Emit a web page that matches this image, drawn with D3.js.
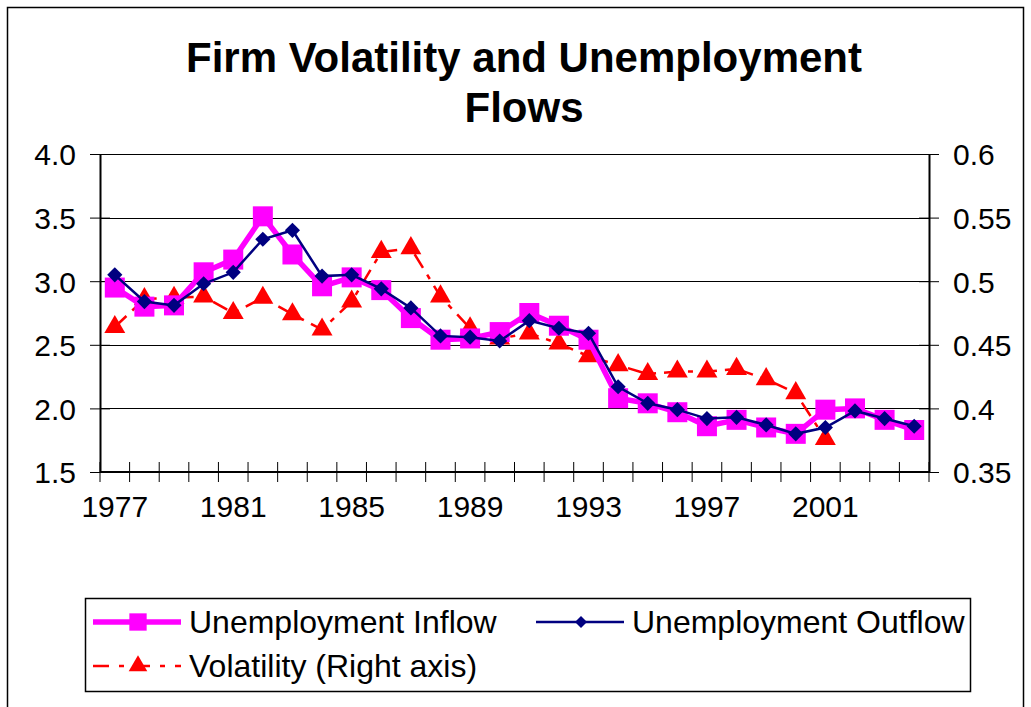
<!DOCTYPE html>
<html>
<head>
<meta charset="utf-8">
<script src="https://cdn.jsdelivr.net/npm/d3@7"></script>
<style>
  body { margin: 0; background: #fff; }
  text { font-family: "Liberation Sans", Arial, sans-serif; }
</style>
</head>
<body>
<script>
// data
const years = d3.range(1977, 2005);
const yearLabels = [1977, 1981, 1985, 1989, 1993, 1997, 2001];

const inflow = [2.95, 2.80, 2.81, 3.07, 3.17, 3.51, 3.21, 2.96, 3.03, 2.93, 2.71, 2.54, 2.55, 2.60,
  2.75, 2.65, 2.54, 2.08, 2.04, 1.97, 1.86, 1.91, 1.85, 1.80, 1.99, 2.00, 1.91, 1.83];
const outflow = [3.05, 2.84, 2.81, 2.98, 3.07, 3.33, 3.40, 3.04, 3.05, 2.94, 2.79, 2.57, 2.56, 2.53,
  2.69, 2.63, 2.59, 2.17, 2.04, 1.99, 1.92, 1.93, 1.87, 1.80, 1.85, 1.98, 1.92, 1.86];
// volatility stops at 2001
const volatility = [0.464, 0.486, 0.487, 0.488, 0.475, 0.487, 0.474, 0.462, 0.484, 0.523, 0.526, 0.488,
  0.463, 0.455, 0.459, 0.451, 0.441, 0.434, 0.427, 0.429, 0.429, 0.431, 0.423, 0.412, 0.376];

const leftTicks = [1.5, 2.0, 2.5, 3.0, 3.5, 4.0];
const rightTicks = [0.35, 0.4, 0.45, 0.5, 0.55, 0.6];

const W = 1031, H = 707;
const plotLeft = 100, plotRight = 929, plotTop = 154, plotBottom = 472;

const svg = d3.select("body").append("svg")
  .attr("width", W)
  .attr("height", H);

// outer chart border
svg.append("rect")
  .attr("x", 7.5).attr("y", 7.5)
  .attr("width", 1016).attr("height", 720)
  .attr("fill", "#fff").attr("stroke", "#000").attr("stroke-width", 1.5);

// title
svg.append("text")
  .attr("x", 524).attr("y", 72)
  .attr("text-anchor", "middle")
  .attr("font-size", 42).attr("font-weight", "bold")
  .text("Firm Volatility and Unemployment");
svg.append("text")
  .attr("x", 524).attr("y", 122)
  .attr("text-anchor", "middle")
  .attr("font-size", 42).attr("font-weight", "bold")
  .text("Flows");

const x = d3.scaleBand()
  .domain(years)
  .range([plotLeft, plotRight]);

const y = d3.scaleLinear()
  .domain([1.5, 4.0])
  .range([plotBottom, plotTop]);

const y2 = d3.scaleLinear()
  .domain([0.35, 0.6])
  .range([plotBottom, plotTop]);

const cx = function(d, i) { return x(years[i]) + x.bandwidth() / 2; };

// gridlines
svg.append("g").selectAll("line")
  .data(leftTicks.slice(1))
  .enter().append("line")
  .attr("x1", plotLeft).attr("x2", plotRight)
  .attr("y1", function(d) { return Math.round(y(d)) + 0.5; })
  .attr("y2", function(d) { return Math.round(y(d)) + 0.5; })
  .attr("stroke", "#000").attr("stroke-width", 1);

// left axis
const yAxis = d3.axisLeft(y)
  .tickValues(leftTicks)
  .tickFormat(d3.format(".1f"))
  .tickSizeInner(10).tickSizeOuter(0).tickPadding(14);
const gl = svg.append("g").attr("transform", "translate(" + plotLeft + ",0)").call(yAxis);

// right axis
const yAxis2 = d3.axisRight(y2)
  .tickValues(rightTicks)
  .tickFormat(function(d) { return d3.format(".2f")(d).replace(/0$/, ""); })
  .tickSizeInner(10).tickSizeOuter(0).tickPadding(14);
const gr = svg.append("g").attr("transform", "translate(" + plotRight + ",0)").call(yAxis2);

// cross ticks: extend inward too
gl.selectAll(".tick line").attr("x1", 10);
gr.selectAll(".tick line").attr("x1", -10);

// bottom axis: ticks at band boundaries
const xb = svg.append("g");
xb.append("line")
  .attr("x1", plotLeft).attr("x2", plotRight)
  .attr("y1", plotBottom).attr("y2", plotBottom)
  .attr("stroke", "#000").attr("stroke-width", 2);
xb.selectAll("line.tk")
  .data(years.concat([2005]))
  .enter().append("line")
  .attr("class", "tk")
  .attr("x1", function(d) { return d === 2005 ? plotRight : x(d); })
  .attr("x2", function(d) { return d === 2005 ? plotRight : x(d); })
  .attr("y1", plotBottom - 10).attr("y2", plotBottom + 10)
  .attr("stroke", "#000");
xb.selectAll("text")
  .data(yearLabels)
  .enter().append("text")
  .attr("x", function(d) { return x(d) + x.bandwidth() / 2; })
  .attr("y", 517)
  .attr("text-anchor", "middle")
  .attr("font-size", 30)
  .text(function(d) { return d; });

[gl, gr].forEach(function(g) {
  g.select(".domain").attr("stroke", "#000").attr("stroke-width", 2);
  g.selectAll(".tick line").attr("stroke", "#000");
  g.selectAll(".tick text")
    .attr("font-size", 30)
    .attr("font-family", "Liberation Sans, Arial, sans-serif")
    .attr("fill", "#000")
    .attr("dy", "0.36em");
});

// series
const lineL = d3.line().x(cx).y(function(d) { return y(d); });
const lineR = d3.line().x(cx).y(function(d) { return y2(d); });

const sq = d3.symbol().type(d3.symbolSquare).size(400);
const dia = d3.symbol().type(d3.symbolSquare).size(115); // rotated 45deg below
const tri = d3.symbol().type(d3.symbolTriangle).size(190);

// volatility (drawn first, behind)
svg.append("path")
  .datum(volatility)
  .attr("d", lineR)
  .attr("fill", "none")
  .attr("stroke", "#ff0000").attr("stroke-width", 2.5)
  .attr("stroke-dasharray", "16,8,5,8");
svg.append("g").selectAll("path")
  .data(volatility)
  .enter().append("path")
  .attr("d", tri)
  .attr("transform", function(d, i) { return "translate(" + cx(d, i) + "," + y2(d) + ")"; })
  .attr("fill", "#ff0000");

// inflow
svg.append("path")
  .datum(inflow)
  .attr("d", lineL)
  .attr("fill", "none")
  .attr("stroke", "#ff00ff").attr("stroke-width", 5.5);
svg.append("g").selectAll("path")
  .data(inflow)
  .enter().append("path")
  .attr("d", sq)
  .attr("transform", function(d, i) { return "translate(" + cx(d, i) + "," + y(d) + ")"; })
  .attr("fill", "#ff00ff");

// outflow
svg.append("path")
  .datum(outflow)
  .attr("d", lineL)
  .attr("fill", "none")
  .attr("stroke", "#000080").attr("stroke-width", 2.5);
svg.append("g").selectAll("path")
  .data(outflow)
  .enter().append("path")
  .attr("d", dia)
  .attr("transform", function(d, i) { return "translate(" + cx(d, i) + "," + y(d) + ") rotate(45)"; })
  .attr("fill", "#000080");

// legend
const lg = svg.append("g");
lg.append("rect")
  .attr("x", 85.5).attr("y", 598.5)
  .attr("width", 885).attr("height", 93)
  .attr("fill", "#fff").attr("stroke", "#000").attr("stroke-width", 1.5);

const legendItems = [
  { name: "Unemployment Inflow", x: 93, y: 622, color: "#ff00ff", width: 5.5, dash: null, sym: d3.symbolSquare, size: 300, rot: 0 },
  { name: "Unemployment Outflow", x: 536, y: 622, color: "#000080", width: 2.5, dash: null, sym: d3.symbolSquare, size: 72, rot: 45 },
  { name: "Volatility (Right axis)", x: 93, y: 666, color: "#ff0000", width: 2.5, dash: "16,10,5,10", sym: d3.symbolTriangle, size: 150, rot: 0 }
];
legendItems.forEach(function(it) {
  lg.append("line")
    .attr("x1", it.x).attr("x2", it.x + 88)
    .attr("y1", it.y).attr("y2", it.y)
    .attr("stroke", it.color).attr("stroke-width", it.width)
    .attr("stroke-dasharray", it.dash);
  lg.append("path")
    .attr("d", d3.symbol().type(it.sym).size(it.size)())
    .attr("transform", "translate(" + (it.x + 45) + "," + it.y + ") rotate(" + it.rot + ")")
    .attr("fill", it.color);
  lg.append("text")
    .attr("x", it.x + 96).attr("y", it.y + 11)
    .attr("font-size", 32)
    .text(it.name);
});
</script>
</body>
</html>
